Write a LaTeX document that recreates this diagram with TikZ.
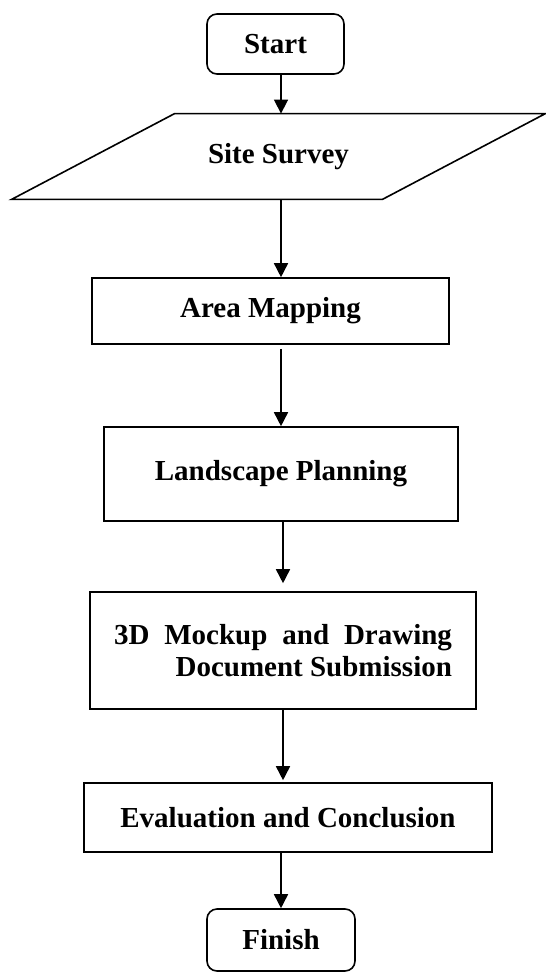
\documentclass[tikz,border=0pt]{standalone}
\usepackage{fontspec}
\setmainfont{Liberation Serif}
\usetikzlibrary{arrows.meta}

\begin{document}
\begin{tikzpicture}[x=0.5pt,y=-0.5pt,
                    font=\fontsize{14.5}{16}\selectfont\bfseries,
                    terminal/.style={draw,line width=0.8pt,rounded corners=5pt},
                    process/.style={draw,line width=0.8pt,rectangle},
                    link/.style={->,line width=0.8pt},
                    >={Triangle[length=7pt,width=7pt]}]
  \useasboundingbox (0,0) rectangle (545,972);
  \coordinate (axis) at (281,0);
  \node[terminal,minimum width=68.5pt,minimum height=30pt] (start) at (275.5,44) {Start};
  \node[minimum width=185pt,minimum height=42.5pt] (survey) at (278.5,156.5) {Site Survey};
  \draw[line width=0.8pt] ([xshift=-40.75pt]survey.south west) -- ([xshift=40.75pt]survey.north west)
      -- ([xshift=40.75pt]survey.north east) -- ([xshift=-40.75pt]survey.south east) -- cycle;
  \node[process,minimum width=178.5pt,minimum height=33pt] (mapping) at (270.5,311) {Area Mapping};
  \node[process,minimum width=177pt,minimum height=47pt] (planning) at (281,474) {Landscape Planning};
  \node[process,minimum width=193pt,minimum height=58.5pt,align=right] (mockup) at (283,650.5)
      {\makebox[169pt][s]{3D Mockup and Drawing}\\Document Submission};
  \node[process,minimum width=204pt,minimum height=34.5pt] (evaluation) at (288,817.5) {Evaluation and Conclusion};
  \node[terminal,minimum width=74pt,minimum height=31pt] (finish) at (281,940) {Finish};
  % arrows
  \draw[link] (start.south -| axis) -- (survey.north -| axis);
  \draw[link] (survey.south -| axis) -- (mapping.north -| axis);
  \draw[link,shorten <=2pt] (mapping.south -| axis) -- (planning.north -| axis);
  \draw[link,shorten >=4pt] ([xshift=1pt]planning.south -| axis) -- ([xshift=1pt]mockup.north -| axis);
  \draw[link,shorten >=1pt] ([xshift=1pt]mockup.south -| axis) -- ([xshift=1pt]evaluation.north -| axis);
  \draw[link] (evaluation.south -| axis) -- (finish.north -| axis);
\end{tikzpicture}
\end{document}
